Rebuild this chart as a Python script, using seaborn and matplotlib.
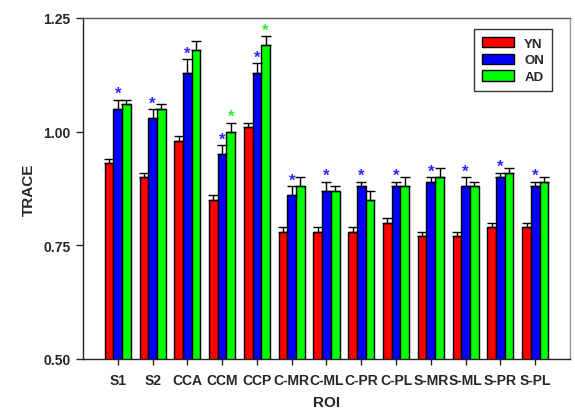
import numpy as np
import pandas as pd
import matplotlib
matplotlib.use("Agg")
import matplotlib.pyplot as plt
from matplotlib.container import BarContainer
import seaborn as sns

rois = ["S1", "S2", "CCA", "CCM", "CCP", "C-MR", "C-ML", "C-PR", "C-PL", "S-MR", "S-ML", "S-PR", "S-PL"]
groups = ["YN", "ON", "AD"]
yn = [0.93, 0.90, 0.98, 0.85, 1.01, 0.78, 0.78, 0.78, 0.80, 0.77, 0.77, 0.79, 0.79]
on = [1.05, 1.03, 1.13, 0.95, 1.13, 0.86, 0.87, 0.88, 0.88, 0.89, 0.88, 0.90, 0.88]
ad = [1.06, 1.05, 1.18, 1.00, 1.19, 0.88, 0.87, 0.85, 0.88, 0.90, 0.88, 0.91, 0.89]
yn_err = [0.01, 0.01, 0.01, 0.01, 0.01, 0.01, 0.01, 0.01, 0.01, 0.01, 0.01, 0.01, 0.01]
on_err = [0.02, 0.02, 0.03, 0.02, 0.02, 0.02, 0.02, 0.01, 0.01, 0.01, 0.02, 0.01, 0.01]
ad_err = [0.01, 0.01, 0.02, 0.02, 0.02, 0.02, 0.01, 0.02, 0.02, 0.02, 0.01, 0.01, 0.01]
on_star = [1] * 13
ad_star = [0, 0, 0, 1, 1, 0, 0, 0, 0, 0, 0, 0, 0]
yticks = [0.50, 0.75, 1.00, 1.25]

colors = ["#ff0000", "#0000ff", "#00ff00"]
star_colors = [None, "#2a2aff", "#33ee33"]

df = pd.DataFrame({
    "ROI": rois * 3,
    "group": [g for g in groups for _ in rois],
    "TRACE": yn + on + ad,
})

sns.set_style("ticks")
plt.rcParams["font.family"] = ["Liberation Sans", "DejaVu Sans"]

fig = plt.figure(figsize=(5.75, 4.1), dpi=100)
ax = fig.add_axes([0.1443, 0.122, 0.8470, 0.8317])

sns.barplot(data=df, x="ROI", y="TRACE", hue="group", order=rois, hue_order=groups,
            palette=colors, width=0.75, edgecolor="black", linewidth=1.0,
            errorbar=None, ax=ax, saturation=1)

errs = [yn_err, on_err, ad_err]
stars = [None, on_star, ad_star]
bar_conts = [c for c in ax.containers if isinstance(c, BarContainer)]
for gi, cont in enumerate(bar_conts):
    for bi, bar in enumerate(cont.patches):
        xc = bar.get_x() + bar.get_width() / 2
        h = bar.get_height()
        e = errs[gi][bi]
        ax.errorbar(xc, h, yerr=[[0], [e]], fmt="none", ecolor="black",
                    elinewidth=1.0, capsize=3.6, capthick=1.0, zorder=3)
        if stars[gi] is not None and stars[gi][bi]:
            ax.annotate("*", (xc, h + e), xytext=(0, -1), textcoords="offset points",
                        ha="center", va="bottom", fontsize=12, fontweight="bold",
                        color=star_colors[gi])

ax.set_ylim(0.5, 1.25)
ax.set_xlim(-1, 13)
ax.set_yticks(yticks)
ax.set_yticklabels(["%.2f" % t for t in yticks], fontsize=10, fontweight="bold")
ax.set_xticks(range(len(rois)))
ax.set_xticklabels(rois, fontsize=10, fontweight="bold")
ax.set_xlabel("ROI", fontsize=11, fontweight="bold", labelpad=6)
ax.set_ylabel("TRACE", fontsize=11, fontweight="bold", labelpad=5)
ax.tick_params(axis="y", direction="out", length=5, width=1, pad=4)
ax.tick_params(axis="x", direction="out", length=4, width=1, pad=6)

for s in ["left", "bottom", "top"]:
    ax.spines[s].set_color("#222222")
    ax.spines[s].set_linewidth(1.0)
ax.spines["right"].set_color("#999999")
ax.spines["right"].set_linewidth(1.0)
ax.spines["top"].set_color("#555555")

handles, labels = ax.get_legend_handles_labels()
leg = ax.legend(handles, labels, loc="upper right", bbox_to_anchor=(0.963, 0.968),
                borderaxespad=0, frameon=True, fancybox=False, edgecolor="black",
                prop={"weight": "bold", "size": 9.5}, handlelength=2.4, handleheight=0.85,
                labelspacing=0.3, handletextpad=0.8, borderpad=0.6)
leg.get_frame().set_linewidth(1.0)

fig.savefig("out.png", dpi=100)
